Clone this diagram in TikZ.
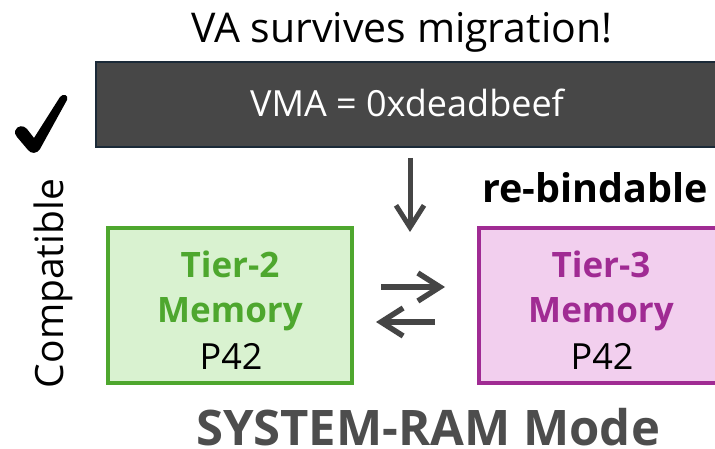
\documentclass[tikz,border=0pt]{standalone}
\usepackage{fontspec}
\setmainfont{Open Sans}
\usetikzlibrary{arrows.meta,calc}

\definecolor{tiergreen}{HTML}{4EA72E}
\definecolor{tiergreenfill}{HTML}{D9F2D0}
\definecolor{tierpurple}{HTML}{A02B93}
\definecolor{tierpinkfill}{HTML}{F2CFEE}
\definecolor{vmafill}{HTML}{474747}
\definecolor{vmaedge}{HTML}{1B2A38}
\definecolor{arrowgray}{HTML}{454545}
\definecolor{modegray}{HTML}{4D4D4D}

\tikzset{
  memblock/.style={draw, line width=4pt, minimum width=244pt, minimum height=155pt,
    inner sep=0pt, outer sep=0pt},
  tierlabel/.style={anchor=base, inner sep=0pt, font=\fontsize{35}{40}\selectfont\bfseries},
  pagelabel/.style={anchor=base, inner sep=0pt, font=\fontsize{36}{42}\selectfont},
  flow/.style={draw=arrowgray, line width=5.5pt, -{Straight Barb[length=22pt,width=28pt]}},
}

\begin{document}
\begin{tikzpicture}[x=1pt,y=-1pt]
\useasboundingbox (0,0) rectangle (715,449);

% heading
\node[anchor=base, inner sep=0pt, font=\fontsize{41}{48}\selectfont] (title) at (402,43)
  {VA survives migration!};

% virtual mapping bar
\node[draw=vmaedge, line width=2.5pt, fill=vmafill, minimum width=626pt, minimum height=85pt,
  inner sep=0pt, outer sep=0pt] (vma) at (409,104.5) {};
\node[anchor=base, inner sep=0pt, text=white, font=\fontsize{36}{42}\selectfont] (vmatext)
  at (407,117) {VMA = 0xdeadbeef};

% brush check mark: short heavy left stroke, long tapering right stroke
\fill[line join=round]
  (15,131) .. controls (17,125) and (24,125) .. (27,129)
  -- (34,138) -- (60,97)
  .. controls (63,93) and (69,95) .. (67,100)
  -- (40,149) .. controls (37,154) and (31,154) .. (28,150)
  -- (17,137) .. controls (15,135) and (15,133) .. (15,131) -- cycle;

% side label
\node[rotate=90, anchor=base, inner sep=0pt, font=\fontsize{39}{46}\selectfont] (compat)
  at (63,283.5) {Compatible};

% memory tiers
\node[memblock, draw=tiergreen, fill=tiergreenfill] (t2) at (230,305.5) {};
\node[tierlabel, text=tiergreen] (t2a) at (230,277) {Tier-2};
\node[tierlabel, text=tiergreen] (t2b) at (230,322) {Memory};
\node[pagelabel] (t2c) at (231,369) {P42};

\node[memblock, draw=tierpurple, fill=tierpinkfill] (t3) at (601,305.5) {};
\node[tierlabel, text=tierpurple] (t3a) at (601,277) {Tier-3};
\node[tierlabel, text=tierpurple] (t3b) at (601,322) {Memory};
\node[pagelabel] (t3c) at (602,369) {P42};

\node[anchor=base, inner sep=0pt, font=\fontsize{39.5}{46}\selectfont\bfseries] (rebind)
  at (595,203) {re-bindable};

% migration arrows
\coordinate (drop) at (410,232);
\draw[flow, line width=5pt] ($(vma.south -| drop)+(0,11)$) -- (drop);
\draw[flow] ($(t2.east)+(29,-18.5)$) -- ($(t3.west)+(-34,-18.5)$);
\draw[flow] ($(t3.west)+(-44,16.5)$) -- ($(t2.east)+(24,16.5)$);

% mode caption
\node[anchor=base, inner sep=0pt, text=modegray, font=\fontsize{49}{56}\selectfont\bfseries]
  (mode) at (428,445) {SYSTEM-RAM Mode};
\end{tikzpicture}
\end{document}
